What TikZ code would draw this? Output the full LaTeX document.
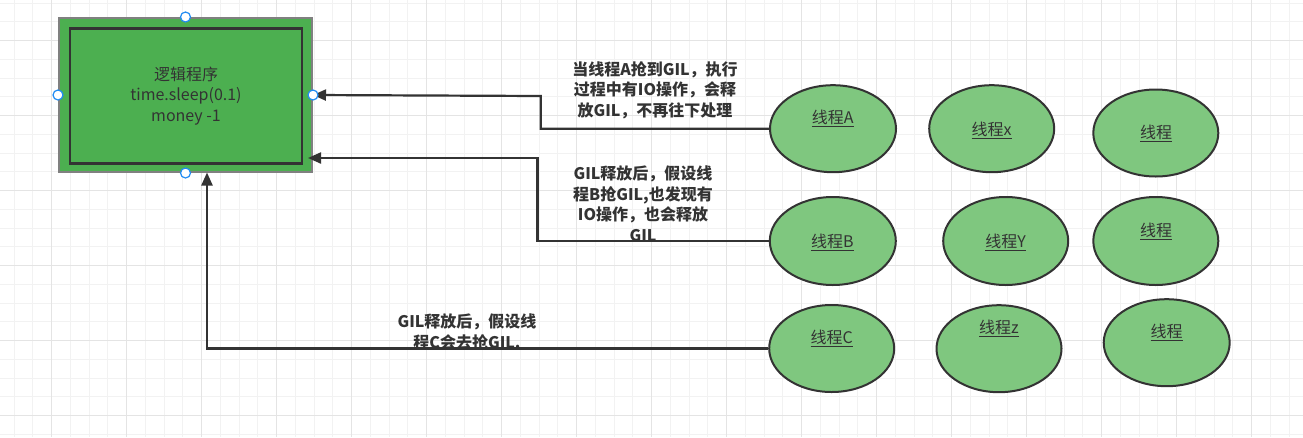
\documentclass[tikz,border=0pt]{standalone}
\usepackage{fontspec}
\setmainfont{Noto Sans CJK SC}
\usetikzlibrary{arrows.meta,shapes.geometric}
\definecolor{boxg}{RGB}{76,175,80}
\definecolor{ellg}{RGB}{127,199,127}
\definecolor{ink}{RGB}{51,51,51}
\definecolor{bordg}{RGB}{128,128,128}
\definecolor{handle}{RGB}{33,140,243}
\definecolor{gridminor}{RGB}{242,242,242}
\definecolor{gridmajor}{RGB}{228,228,228}
\tikzset{
  minorline/.style={draw=gridminor,line width=1pt},
  majorline/.style={draw=gridmajor,line width=1.2pt},
  thread/.style={ellipse,draw=ink,fill=ellg,line width=2pt,inner sep=0pt},
  ttext/.style={text=ink,font=\fontsize{16pt}{20pt}\selectfont,inner sep=0pt},
  lbl/.style={text=ink,font=\fontsize{16pt}{20.5pt}\selectfont\bfseries,align=center,inner sep=0pt},
  conn/.style={draw=ink,line width=2.2pt,-{Triangle[length=13pt,width=11pt]}},
  hnd/.style={circle,draw=handle,fill=white,line width=1.2pt,minimum size=10pt,inner sep=0pt}
}
\begin{document}
\begin{tikzpicture}[x=1pt,y=-1pt]
\useasboundingbox[fill=white] (0,0) rectangle (1303,437);
% grid
\foreach \i in {0,...,68} \draw[minorline] (14.2+18.75*\i,0) -- (14.2+18.75*\i,437);
\foreach \i in {0,...,23} \draw[minorline] (0,3.2+18.75*\i) -- (1303,3.2+18.75*\i);
\foreach \i in {0,...,16} \draw[majorline] (51.7+75*\i,0) -- (51.7+75*\i,437);
\foreach \i in {0,...,5} \draw[majorline] (0,40.7+75*\i) -- (1303,40.7+75*\i);

% main box
\node[draw=bordg,fill=boxg,line width=2pt,minimum width=253pt,minimum height=154pt,inner sep=0pt] (box) at (185.5,95) {};
\node[draw=ink,fill=boxg,line width=2.2pt,minimum width=231.5pt,minimum height=135pt,inner sep=0pt,
      text=ink,font=\fontsize{16pt}{20.5pt}\selectfont,align=center] (inner) at (186,96) {逻辑程序\\time.sleep(0.1)\\money -1};

% threads
\node[thread,minimum width=126pt,minimum height=87pt] (tA) at (833,128.7) {};
\node[thread,minimum width=125pt,minimum height=87pt] (tX) at (991.7,128.7) {};
\node[thread,minimum width=125pt,minimum height=87pt] (t3) at (1155.8,133) {};
\node[thread,minimum width=126pt,minimum height=88pt] (tB) at (832.8,241) {};
\node[thread,minimum width=125pt,minimum height=88pt] (tY) at (1005.7,241) {};
\node[thread,minimum width=125pt,minimum height=88pt] (t6) at (1155.8,241) {};
\node[thread,minimum width=125pt,minimum height=87pt] (tC) at (831.7,348.5) {};
\node[thread,minimum width=125pt,minimum height=87pt] (tZ) at (999,348.7) {};
\node[thread,minimum width=126pt,minimum height=87pt] (t9) at (1166.7,342.7) {};

\node[ttext] (lA) at (832.7,118.3) {\underline{线程A}};
\node[ttext] (lX) at (991.7,130) {\underline{线程x}};
\node[ttext] (l3) at (1156,133.3) {\underline{线程}};
\node[ttext] (lB) at (832.3,242.3) {\underline{线程B}};
\node[ttext] (lY) at (1005.7,242.3) {\underline{线程Y}};
\node[ttext] (l6) at (1156,231.7) {\underline{线程}};
\node[ttext] (lC) at (831.7,338.3) {\underline{线程C}};
\node[ttext] (lZ) at (999,328.3) {\underline{线程z}};
\node[ttext] (l9) at (1166.7,332.3) {\underline{线程}};

% connectors
\coordinate (t2) at (308,158);
\coordinate (t3e) at (207,172.5);
\draw[conn] (tA.west) -- (540.7,128.7) -- (540.7,96) -- (box.east);
\draw[conn] (tB.west) -- (537.5,241) -- (537.5,158) -- (t2);
\draw[conn] (tC.west) -- (207,348.5) -- (t3e);

% labels
\node[lbl] (c1) at (655,90) {当线程A抢到GIL，执行\\过程中有IO操作，会释\\放GIL，不再往下处理};
\node[lbl] (c2) at (643,203.5) {GIL释放后，假设线\\程B抢GIL,也发现有\\IO操作，也会释放\\GIL};
\node[lbl] (c3) at (467,332) {GIL释放后，假设线\\程C会去抢GIL.};

% selection handles
\node[hnd] (h1) at (box.north) {};
\node[hnd] (h2) at (box.west) {};
\node[hnd] (h3) at (box.east) {};
\node[hnd] (h4) at (box.south) {};
\end{tikzpicture}
\end{document}
